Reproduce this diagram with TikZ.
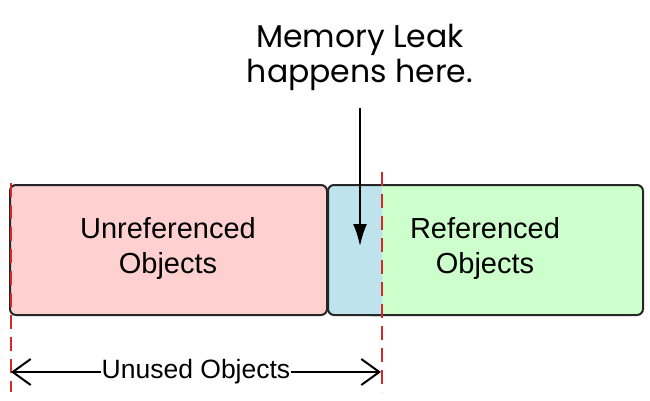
\documentclass[tikz,border=0pt]{standalone}
\usepackage{fontspec}
\setmainfont{Liberation Sans}
\newfontfamily\leakfont{Poppins}
\usetikzlibrary{arrows.meta}
\definecolor{boxred}{HTML}{FFD0D0}
\definecolor{boxgreen}{HTML}{CCFFCC}
\definecolor{boxblue}{HTML}{BFE3EC}
\definecolor{dashred}{HTML}{D42A2A}
\begin{document}
\begin{tikzpicture}[x=1pt,y=-1pt,
  boxstyle/.style={draw=black!85, line width=2pt, rounded corners=6pt},
  lbl/.style={font=\fontsize{29}{35}\selectfont, align=center, inner sep=0pt},
  redline/.style={draw=dashred, line width=2pt, dash pattern=on 14pt off 8pt}]
\useasboundingbox (0,0) rectangle (650,400);
% boxes
\path[boxstyle, fill=boxgreen] (365,185) rectangle (643,315);
\fill[boxblue, rounded corners=6pt] (328,185) rectangle (382,315);
\fill[boxblue] (345,186) rectangle (382,314);
\draw[line width=2pt, draw=black!85, rounded corners=6pt] (382,185) -- (328,185) -- (328,315) -- (382,315);
\path[boxstyle, fill=boxred] (10,185) rectangle (327,315);
% labels
\node[lbl] (unref) at (168,248) {Unreferenced\\Objects};
\node[lbl] (ref) at (485,248) {Referenced\\Objects};
% dashed lines
\coordinate (lt) at (11,183);
\coordinate (lb) at (11,392);
\coordinate (rt) at (382,172);
\coordinate (rb) at (382,392);
\draw[redline] (lt) -- (lb);
\draw[redline] (rt) -- (rb);
% memory leak
\node[font=\leakfont\fontsize{31.5}{35}\selectfont, align=center, inner sep=0pt] (leak) at (360,57) {Memory Leak\\happens here.};
\coordinate (tip) at (360,246);
\draw[line width=2pt, -{Latex[length=22pt,width=14pt]}] (360,108) -- (tip);
% unused objects
\node[font=\fontsize{26.5}{30}\selectfont, inner sep=1pt] (unused) at (196,372) {Unused Objects};
\coordinate (ua) at (11,372);
\coordinate (ub) at (381,372);
\draw[line width=2pt, -{Straight Barb[length=18pt,width=26pt,line width=2pt]}] (unused.west) -- (ua);
\draw[line width=2pt, -{Straight Barb[length=18pt,width=26pt,line width=2pt]}] (unused.east) -- (ub);
\end{tikzpicture}
\end{document}
